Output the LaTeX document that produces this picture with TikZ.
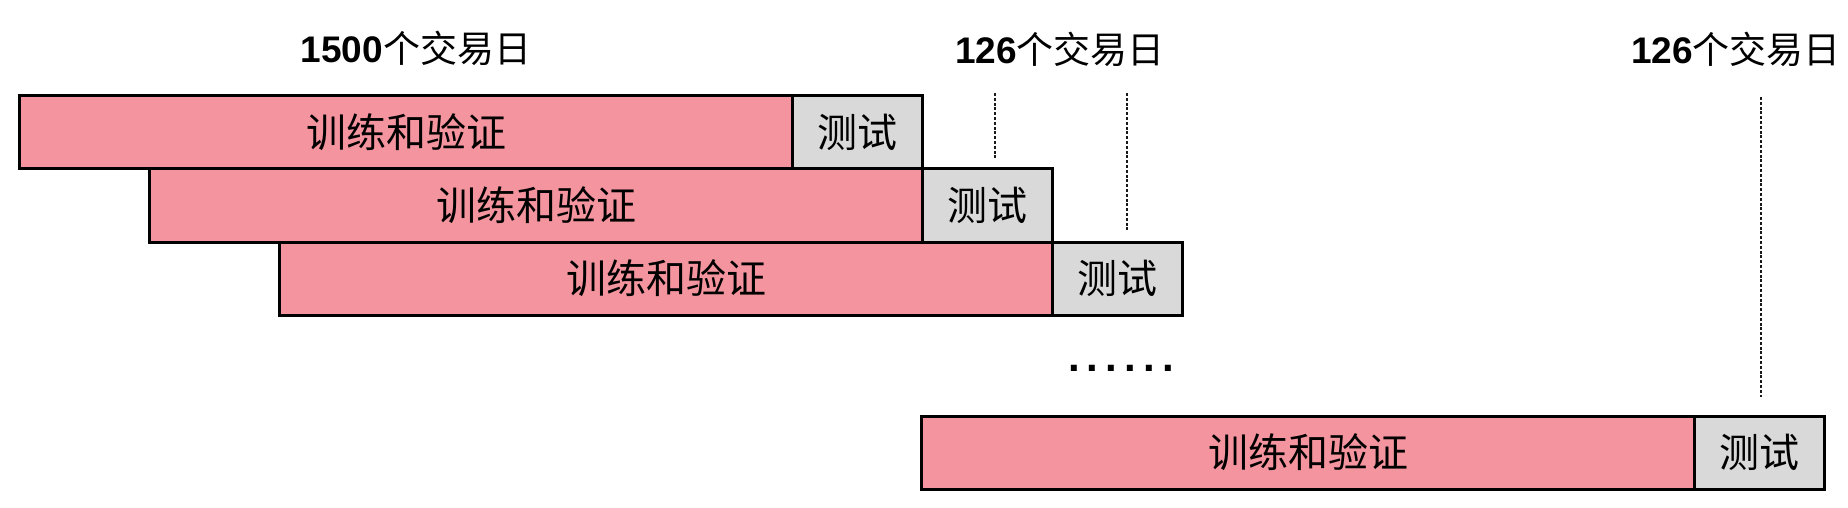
\documentclass[tikz,border=0pt]{standalone}
\usepackage{fontspec}
\setmainfont{Liberation Sans}
\newfontfamily\cjk{Noto Sans CJK SC}
\newfontfamily\dotfont[LetterSpace=17]{Liberation Sans}
\usetikzlibrary{positioning}
\definecolor{trainpink}{RGB}{244,148,158}
\definecolor{testgray}{RGB}{217,217,217}

\begin{document}
\begin{tikzpicture}
  [x=1pt,y=-1pt,
   box/.style={draw,line width=3pt,inner sep=0pt,outer sep=0pt,minimum height=73pt,
     font=\cjk\fontsize{40}{44}\selectfont},
   trainbox/.style={box,fill=trainpink,minimum width=773pt,anchor=north west},
   testbox/.style={box,fill=testgray,minimum width=130pt},
   days/.style={font=\fontsize{37}{40}\selectfont},
   gap/.style={line width=2.6pt,dash pattern=on 3pt off 1.8pt,color=black!90}]
  \useasboundingbox (0,0) rectangle (1848,508);

  % windows
  \node[trainbox] (tv1) at (19.5,96)  {训练和验证};
  \node[testbox,right=0pt of tv1] (te1) {测试};
  \node[trainbox] (tv2) at (149.5,169) {训练和验证};
  \node[testbox,right=0pt of tv2] (te2) {测试};
  \node[trainbox] (tv3) at (279.5,242) {训练和验证};
  \node[testbox,right=0pt of tv3] (te3) {测试};
  \node[trainbox] (tv4) at (921.5,416) {训练和验证};
  \node[testbox,right=0pt of tv4] (te4) {测试};

  \node[font=\dotfont\bfseries\fontsize{42}{44}\selectfont] (more) at (1121,368) {......};

  % day counts
  \node[days] (d1) at (416,48)  {\textbf{1500}{\cjk 个交易日}};
  \node[days] (d2) at (1060,49) {\textbf{126}{\cjk 个交易日}};
  \node[days] (d3) at (1736,49) {\textbf{126}{\cjk 个交易日}};

  \coordinate (a1) at (995,93);  \coordinate (b1) at (995,158);
  \coordinate (a2) at (1127,93); \coordinate (b2) at (1127,230);
  \coordinate (a3) at (1761,97); \coordinate (b3) at (1761,397);
  \foreach \from/\to in {a1/b1,a2/b2,a3/b3}
    \draw [gap] (\from) -- (\to);
\end{tikzpicture}
\end{document}
